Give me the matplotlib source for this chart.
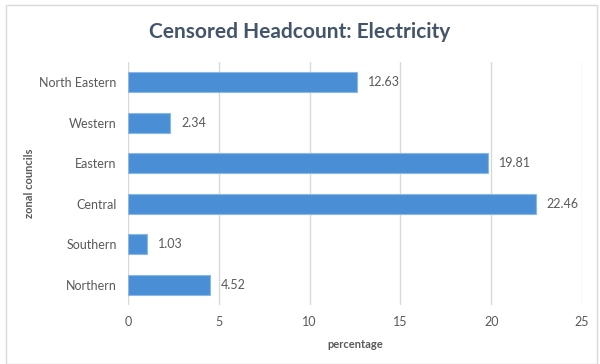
import matplotlib.pyplot as plt
from matplotlib.patches import Rectangle

# data, bottom to top
councils = ["Northern", "Southern", "Central", "Eastern", "Western", "North Eastern"]
values = [4.52, 1.03, 22.46, 19.81, 2.34, 12.63]
xticks = [0, 5, 10, 15, 20, 25]

plt.rcParams["font.family"] = ["Lato", "DejaVu Sans"]

fig = plt.figure(figsize=(6, 3.64), dpi=100)
ax = fig.add_axes([0.2133, 0.162, 0.7567, 0.6677])

# outer chart frame
fig.patches.append(Rectangle((0.01, 0.0), 0.985, 0.985, transform=fig.transFigure,
                             fill=False, edgecolor="#D9D9D9", linewidth=1))

bars = ax.barh(councils, values, height=0.5, color="#4A8FD6",
               edgecolor="#8AB8E6", linewidth=0.8, zorder=3)
for b, v in zip(bars, values):
    ax.text(v + 0.6, b.get_y() + b.get_height() / 2, f"{v:.2f}",
            va="center", ha="left", fontsize=9, color="#595959")

ax.set_xlim(0, 25)
ax.set_ylim(-0.5, 5.5)
ax.set_xticks(xticks)
ax.grid(axis="x", color="#D9D9D9", linewidth=1, zorder=0)
for s in ax.spines.values():
    s.set_visible(False)
ax.tick_params(length=0, labelsize=9, labelcolor="#595959")
ax.tick_params(axis="x", pad=8)
ax.tick_params(axis="y", pad=8)

ax.set_xlabel("percentage", fontsize=8, fontweight="bold", color="#595959", labelpad=8)
ax.set_ylabel("zonal councils", fontsize=8, fontweight="bold", color="#595959")
ax.yaxis.set_label_coords(-0.205, 0.5)
fig.text(0.5, 0.912, "Censored Headcount: Electricity", ha="center", va="center",
         fontsize=15, fontweight="bold", color="#44546A")

fig.savefig("out.png", dpi=100)
